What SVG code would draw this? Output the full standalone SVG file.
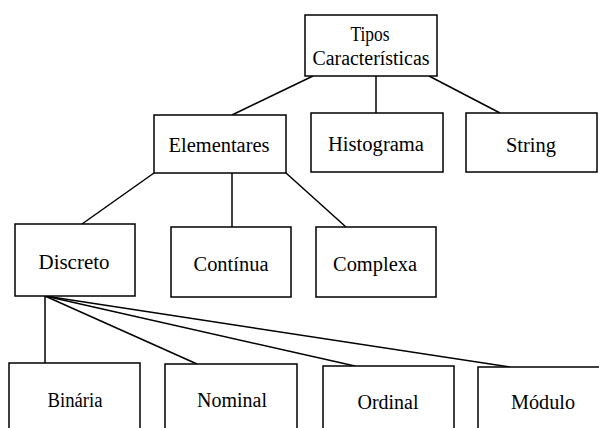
<svg xmlns="http://www.w3.org/2000/svg" width="599" height="428" viewBox="0 0 599 428">
<style>
.box{fill:#fff;stroke:#000;stroke-width:1.5}
.lbl{font-family:"Liberation Serif","Times New Roman",serif;font-size:20px;fill:#000;text-anchor:middle}
.con line{stroke:#000;stroke-width:1.5}
</style>
<rect width="599" height="428" fill="#fff"/>
<g id="connectors" class="con">
<line x1="313" y1="76" x2="232" y2="115"/>
<line x1="376" y1="76" x2="376" y2="113"/>
<line x1="429" y1="76" x2="500" y2="113"/>
<line x1="154" y1="173" x2="82" y2="224"/>
<line x1="232" y1="173" x2="232" y2="227"/>
<line x1="286" y1="173" x2="346" y2="227"/>
<line x1="45" y1="296" x2="45" y2="363"/>
<line x1="45" y1="296" x2="197" y2="364"/>
<line x1="45" y1="296" x2="355" y2="366"/>
<line x1="45" y1="296" x2="510" y2="367"/>
</g>
<g id="tipos"><rect class="box" x="305" y="15" width="132" height="61"/>
<text class="lbl" x="370" y="41" textLength="39" lengthAdjust="spacingAndGlyphs">Tipos</text>
<text class="lbl" x="371" y="65" textLength="117" lengthAdjust="spacingAndGlyphs">Características</text></g>
<g id="elementares"><rect class="box" x="154" y="115" width="132" height="58"/>
<text class="lbl" x="219" y="152" textLength="101" lengthAdjust="spacingAndGlyphs">Elementares</text></g>
<g id="histograma"><rect class="box" x="311" y="113" width="132" height="59"/>
<text class="lbl" x="376" y="151" textLength="96" lengthAdjust="spacingAndGlyphs">Histograma</text></g>
<g id="string"><rect class="box" x="466" y="113" width="131" height="59"/>
<text class="lbl" x="531" y="152" textLength="50" lengthAdjust="spacingAndGlyphs">String</text></g>
<g id="discreto"><rect class="box" x="15" y="224" width="120" height="72"/>
<text class="lbl" x="74" y="269" textLength="71" lengthAdjust="spacingAndGlyphs">Discreto</text></g>
<g id="continua"><rect class="box" x="171" y="227" width="120" height="70"/>
<text class="lbl" x="231" y="271" textLength="75" lengthAdjust="spacingAndGlyphs">Contínua</text></g>
<g id="complexa"><rect class="box" x="316" y="227" width="120" height="70"/>
<text class="lbl" x="375" y="271" textLength="84" lengthAdjust="spacingAndGlyphs">Complexa</text></g>
<g id="binaria"><rect class="box" x="9" y="363" width="131" height="80"/>
<text class="lbl" x="75" y="407" textLength="55" lengthAdjust="spacingAndGlyphs">Binária</text></g>
<g id="nominal"><rect class="box" x="165" y="364" width="132" height="80"/>
<text class="lbl" x="232" y="407" textLength="70" lengthAdjust="spacingAndGlyphs">Nominal</text></g>
<g id="ordinal"><rect class="box" x="323" y="366" width="131" height="80"/>
<text class="lbl" x="388" y="409" textLength="61" lengthAdjust="spacingAndGlyphs">Ordinal</text></g>
<g id="modulo"><rect class="box" x="478" y="367" width="140" height="80"/>
<text class="lbl" x="543" y="409" textLength="64" lengthAdjust="spacingAndGlyphs">Módulo</text></g>
</svg>
